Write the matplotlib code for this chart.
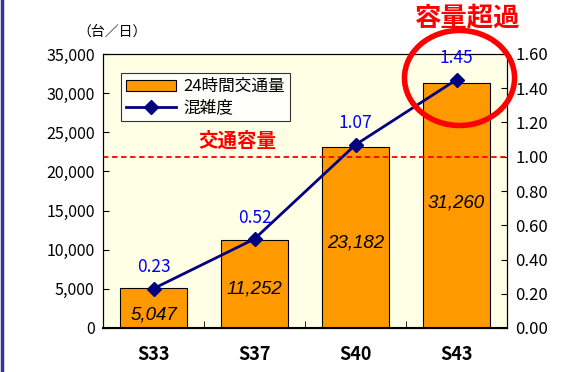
import matplotlib.pyplot as plt
from matplotlib.patches import Ellipse
import numpy as np

plt.rcParams['font.family'] = ['Noto Sans CJK JP', 'DejaVu Sans']

# data
years = ["S33", "S37", "S40", "S43"]
traffic = [5047, 11252, 23182, 31260]
congestion = [0.23, 0.52, 1.07, 1.45]
capacity_ratio = 1.0

# where the value sits inside each bar (fraction of bar height)
label_frac = [0.33, 0.44, 0.47, 0.51]

fig = plt.figure(figsize=(5.65, 3.72), dpi=100)
ax = fig.add_axes([103 / 565, 1 - 328 / 372, 404 / 565, 274 / 372])
ax.set_facecolor("#FFFFE6")

x = np.arange(len(years))
ax.bar(x, traffic, width=0.67, color="#FF9900", edgecolor="black",
       linewidth=0.8, label="24時間交通量", zorder=2)
ax.set_xlim(-0.5, 3.5)
ax.set_ylim(0, 35000)
ax.set_yticks(range(0, 35001, 5000))
ax.set_yticklabels([f"{v:,}" for v in range(0, 35001, 5000)], fontsize=11.5)
ax.set_xticks(x)
ax.set_xticklabels(years, fontsize=13, fontweight="bold")
ax.set_xticks(np.arange(-0.5, 4, 1), minor=True)
ax.tick_params(axis="x", which="major", length=0, pad=12)
ax.tick_params(axis="x", which="minor", direction="in", length=5)
ax.tick_params(axis="y", direction="in", length=4, pad=6)
ax.spines["bottom"].set_linewidth(1.5)

for xi, v, f in zip(x, traffic, label_frac):
    ax.text(xi, v * f, f"{v:,}", ha="center", va="center", family="Liberation Sans",
            fontsize=13.5, style="italic", zorder=4)

ax2 = ax.twinx()
ax2.set_ylim(0, 1.6)
ax2.set_yticks(np.arange(0, 1.61, 0.2))
ax2.set_yticklabels([f"{v:.2f}" for v in np.arange(0, 1.61, 0.2)], fontsize=12)
ax2.tick_params(axis="y", direction="in", length=4, pad=6)
ax2.plot(x, congestion, color="#000080", marker="D", markersize=7.5, linewidth=2,
         label="混雑度", zorder=3)
for xi, v in zip(x, congestion):
    ax2.text(xi, v + 0.125, f"{v:.2f}", ha="center", va="center", color="#0000FF",
             fontsize=12.5)

ax2.axhline(capacity_ratio, color="#FF0000", linestyle=(0, (3, 2)), linewidth=1.3)
ax2.text(0.83, 1.035, "交通容量", color="#FF0000", fontsize=14, fontweight="bold",
         ha="center", va="bottom")

# legend
h1, l1 = ax.get_legend_handles_labels()
h2, l2 = ax2.get_legend_handles_labels()
leg = ax2.legend(h1 + h2, l1 + l2, loc="upper left", bbox_to_anchor=(0.025, 0.96),
                 fontsize=12, frameon=True, fancybox=False, edgecolor="black",
                 borderpad=0.3, labelspacing=0.25, handlelength=3, handletextpad=0.4)
leg.get_frame().set_linewidth(0.8)

# overcapacity highlight
ell = Ellipse((3.03, 1.46), width=1.09, height=0.555, fill=False, edgecolor="#FF0000",
              linewidth=4, clip_on=False, zorder=5)
ax2.add_patch(ell)
fig.text(468 / 565, 1 - 19 / 372, "容量超過", color="#FF0000", fontsize=19,
         fontweight="bold", ha="center", va="center")

fig.text(112 / 565, 1 - 32 / 372, "（台／日）", fontsize=10, ha="center", va="center")

# left border line
fig.add_artist(plt.Line2D([2 / 565, 2 / 565], [0, 1], color="#333399", linewidth=2.5))

fig.savefig("out.png", dpi=100, facecolor="white")
